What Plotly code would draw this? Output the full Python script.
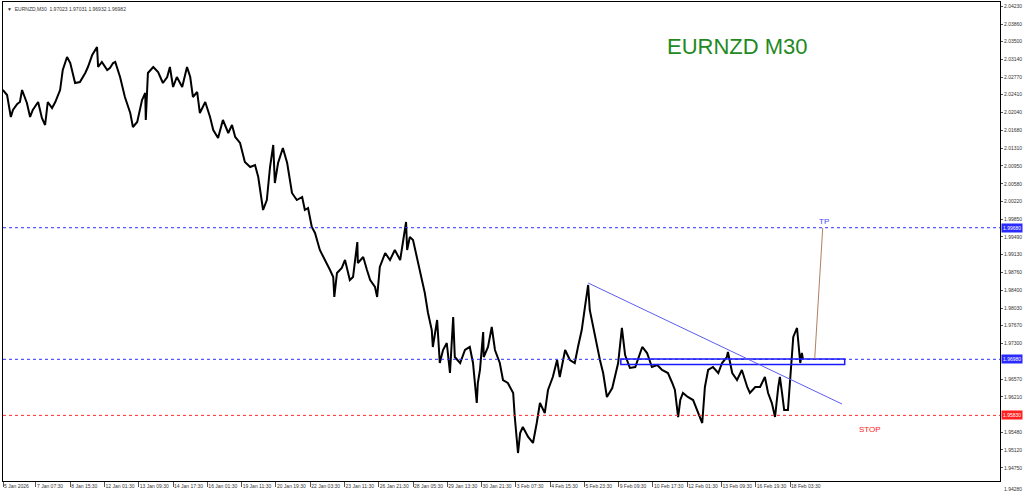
import plotly.graph_objects as go

# M30 bar index (0 = left edge of the window) and closing price
bars = [2, 10, 17, 21, 29, 34, 38, 44, 47, 53, 58, 68, 72, 75, 81, 86, 94, 100, 109, 114,
        122, 128, 137, 146, 156, 161, 169, 178, 180, 187, 197, 202, 208, 212, 221, 230, 240,
        245, 253, 262, 268, 269, 273, 283, 292, 301, 309, 314, 320, 327, 337, 346, 352, 357,
        365, 370, 380, 389, 395, 404, 413, 423, 430, 436, 445, 454, 464, 473, 479, 488, 495,
        501, 507, 510, 516, 525, 533, 542, 551, 561, 566, 572, 579, 585, 594, 604, 613, 619,
        621, 626, 635, 641, 650, 656, 664, 665, 675, 682, 688, 697, 701, 706, 716, 725, 734,
        744, 755, 757, 762, 768, 775, 785, 790, 796, 803, 805, 813, 818, 824, 831, 837, 843,
        846, 856, 865, 874, 880, 887, 889, 893, 899, 900, 908, 915, 921, 930, 936, 945, 955,
        958, 964, 968, 973, 983, 992, 999, 1005, 1014, 1020, 1029, 1037, 1042, 1052, 1061,
        1070, 1076, 1083, 1089, 1095, 1098, 1108, 1117, 1123, 1130, 1140, 1145, 1151, 1158,
        1164, 1173, 1183, 1196, 1205, 1214, 1224, 1233, 1244, 1252, 1257, 1263, 1267, 1272,
        1281, 1291, 1300, 1308, 1313, 1319, 1328, 1338, 1345, 1354, 1356, 1364, 1373, 1382,
        1392, 1397, 1407, 1416, 1425, 1431, 1438, 1444, 1450, 1453, 1457, 1461, 1468, 1474,
        1478, 1481, 1485, 1491, 1494, 1496]
close = [2.02506, 2.02404, 2.01952, 2.02096, 2.02219, 2.02260, 2.02506, 2.02301, 2.02239,
         2.01952, 2.02096, 2.02260, 2.02055, 2.01932, 2.01788, 2.02260, 2.02137, 2.02260,
         2.02506, 2.02917, 2.03183, 2.03060, 2.02650, 2.02670, 2.02855, 2.02978, 2.03224,
         2.03389, 2.02978, 2.03081, 2.02917, 2.02958, 2.03060, 2.03081, 2.02773, 2.02363,
         2.02034, 2.01747, 2.01850, 2.02301, 2.02445, 2.01891, 2.02855, 2.02978, 2.02876,
         2.02650, 2.02773, 2.02978, 2.02568, 2.02773, 2.02568, 2.02978, 2.02773, 2.02363,
         2.02465, 2.02034, 2.02260, 2.01952, 2.01685, 2.01521, 2.01891, 2.01624, 2.01788,
         2.01542, 2.01419, 2.01029, 2.00926, 2.00967, 2.00721, 2.00044, 2.00249, 2.00926,
         2.01378, 2.00598, 2.01008, 2.01316, 2.01008, 2.00393, 2.00249, 2.00311, 2.00044,
         2.00085, 1.99695, 1.99572, 1.99223, 1.99018, 1.98813, 1.98669, 1.98259, 1.98751,
         1.98854, 1.99018, 1.98607, 1.98669, 1.99387, 1.98956, 1.99079, 1.98813, 1.98607,
         1.98464, 1.98259, 1.98874, 1.99161, 1.99018, 1.99223, 1.99018, 1.99798, 1.99223,
         1.99490, 1.99428, 1.99079, 1.98546, 1.98341, 1.97930, 1.97581, 1.97233, 1.97787,
         1.96904, 1.97171, 1.97315, 1.96699, 1.97848, 1.97027, 1.96904, 1.97171, 1.97233,
         1.96904, 1.96083, 1.96494, 1.96761, 1.97540, 1.97027, 1.97233, 1.97643, 1.97171,
         1.96904, 1.96555, 1.96494, 1.96289, 1.95796, 1.95057, 1.95468, 1.95591, 1.95386,
         1.95263, 1.95673, 1.96083, 1.95878, 1.96350, 1.96617, 1.96966, 1.96617, 1.97171,
         1.96966, 1.96904, 1.97233, 1.97581, 1.98053, 1.98505, 1.97992, 1.97438, 1.96966,
         1.96699, 1.96207, 1.96391, 1.96617, 1.96904, 1.97623, 1.97068, 1.96802, 1.96822,
         1.97233, 1.97109, 1.96822, 1.96863, 1.96761, 1.96699, 1.96494, 1.96350, 1.95796,
         1.96145, 1.96289, 1.96207, 1.96145, 1.95878, 1.95673, 1.96412, 1.96761, 1.96822,
         1.96699, 1.96904, 1.97027, 1.97130, 1.96699, 1.96555, 1.96761, 1.96412, 1.96289,
         1.96412, 1.96412, 1.96617, 1.96289, 1.96083, 1.95796, 1.96412, 1.96617, 1.96289,
         1.95940, 1.95940, 1.96822, 1.97438, 1.97520, 1.97623, 1.96904, 1.97109, 1.96986]

time_ticks = [2.5, 64, 128, 192, 256, 320, 384, 448, 512, 576, 640, 704, 768, 832, 896,
              960, 1024, 1088, 1152, 1216, 1280, 1344, 1408, 1472]
time_labels = ["5 Jan 2026", "7 Jan 07:30", "8 Jan 15:30", "12 Jan 01:30", "13 Jan 09:30",
               "14 Jan 17:30", "16 Jan 01:30", "19 Jan 11:30", "20 Jan 19:30", "22 Jan 03:30",
               "23 Jan 11:30", "26 Jan 21:30", "28 Jan 05:30", "29 Jan 13:30", "30 Jan 21:30",
               "3 Feb 07:30", "4 Feb 15:30", "5 Feb 23:30", "9 Feb 09:30", "10 Feb 17:30",
               "12 Feb 01:30", "13 Feb 09:30", "16 Feb 19:30", "18 Feb 03:30"]
price_labels = ["2.04230", "2.03860", "2.03500", "2.03140", "2.02770", "2.02410", "2.02040",
                "2.01680", "2.01310", "2.00950", "2.00580", "2.00220", "1.99850", "1.99490",
                "1.99130", "1.98760", "1.98400", "1.98030", "1.97670", "1.97300", "1.96570",
                "1.96210", "1.95480", "1.95120", "1.94750"]

tp_level = 1.99680
entry_level = 1.96980
stop_level = 1.95830

# drawn objects (bar index, price)
trend = [(1095, 1.98546), (1569, 1.96063)]
zone = [(1156, 1.96873), (1574, 1.96986)]
tp_arrow = [(1518, 1.96986), (1533, 1.99675)]

fig = go.Figure(
    data=[
        go.Scatter(
            x=bars, y=close, mode="lines",
            line=dict(color="black", width=2),
            hoverinfo="skip", showlegend=False,
        )
    ]
)

small = dict(family="Liberation Sans, Arial", size=5, color="#333333")

fig.update_xaxes(
    range=[2.4, 1864], tickvals=time_ticks, ticktext=time_labels,
    ticks="outside", ticklen=5, tickcolor="#555555", tickfont=small,
    ticklabelposition="outside right", tickangle=0, automargin=False,
    showgrid=False, zeroline=False, showline=True, linecolor="black", mirror=True,
)
fig.update_yaxes(
    range=[1.94483, 2.04312], side="right",
    tickvals=[float(v) for v in price_labels], ticktext=price_labels,
    ticks="outside", ticklen=2, tickcolor="#555555", tickfont=small, automargin=False,
    showgrid=False, zeroline=False, showline=True, linecolor="black", mirror=True,
)

# horizontal levels
for lvl, col in [(tp_level, "#2f2fff"), (entry_level, "#2f2fff"), (stop_level, "#ff2a2a")]:
    fig.add_hline(y=lvl, line=dict(color=col, width=1, dash="dot"))

fig.add_shape(type="rect", x0=zone[0][0], x1=zone[1][0], y0=zone[0][1], y1=zone[1][1],
              line=dict(color="#1a1aff", width=1.5), fillcolor="rgba(0,0,0,0)")
fig.add_shape(type="line", x0=trend[0][0], y0=trend[0][1], x1=trend[1][0], y1=trend[1][1],
              line=dict(color="#5c5cf0", width=1))
fig.add_shape(type="line", x0=tp_arrow[0][0], y0=tp_arrow[0][1], x1=tp_arrow[1][0],
              y1=tp_arrow[1][1], line=dict(color="#b08060", width=1))

fig.add_annotation(x=1535, y=1.99800, text="TP", showarrow=False, xanchor="center",
                   font=dict(family="Liberation Sans, Arial", size=8, color="#4545ff"))
fig.add_annotation(x=1621, y=1.95550, text="STOP", showarrow=False, xanchor="center",
                   font=dict(family="Liberation Sans, Arial", size=8, color="#ff2020"))
fig.add_annotation(x=1373, y=2.03390, text="EURNZD M30", showarrow=False,
                   font=dict(family="Liberation Sans, Arial", size=22, color="#1f8a1f"))

# highlighted price labels on the axis
for lvl, col in [(tp_level, "#2a2aff"), (entry_level, "#2a2aff"), (stop_level, "#ff2020")]:
    fig.add_annotation(xref="paper", x=1.0, y=lvl, text="%.5f" % lvl, showarrow=False,
                       xanchor="left", bgcolor=col, borderpad=1, xshift=1,
                       font=dict(family="Liberation Sans, Arial", size=5, color="white"))

fig.add_annotation(xref="paper", yref="paper", x=1.0, y=0.0, text="1.94280", showarrow=False,
                   xanchor="left", yanchor="top", xshift=2, yshift=-3, font=small)
fig.add_annotation(xref="paper", yref="paper", x=0.0, y=1.0, showarrow=False,
                   text="\u25bc  EURNZD,M30  1.97023 1.97031 1.96932 1.96982",
                   xanchor="left", yanchor="top", xshift=2, yshift=-2, font=small)

fig.update_layout(
    width=1024, height=498,
    margin=dict(l=3, r=24, t=2, b=17),
    plot_bgcolor="white", paper_bgcolor="white",
)

fig.write_html("out.html", config={"displayModeBar": False},
               post_script="document.body.style.margin='0';")
